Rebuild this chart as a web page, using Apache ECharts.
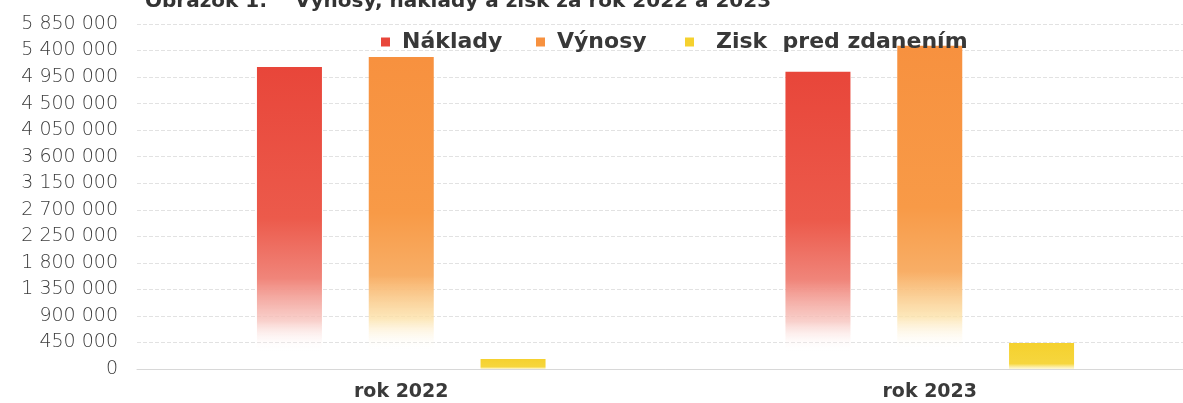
<!DOCTYPE html>
<html>
<head>
<meta charset="utf-8">
<script src="https://cdn.jsdelivr.net/npm/echarts@6/dist/echarts.min.js"></script>
<style>
html,body{margin:0;padding:0;background:#fff;overflow:hidden;width:1183px;height:403px;}
#chart{width:1194px;height:403px;}
</style>
</head>
<body>
<div id="chart"></div>
<script>
const categories = ['rok 2022', 'rok 2023'];
const naklady = [5120000, 5040000];
const vynosy = [5290000, 5480000];
const zisk = [170000, 440000];
const seriesNames = ['Náklady', 'Výnosy', 'Zisk  pred zdanením'];
const titleText = 'Obrázok 1:    Výnosy, náklady a zisk za rok 2022 a 2023';

function fmt(v){ return String(v).replace(/\B(?=(\d{3})+(?!\d))/g, ' '); }
function grad(stops){
  return new echarts.graphic.LinearGradient(0,0,0,1, stops.map(s=>({offset:s[0], color:s[1]})));
}
const redFill = grad([[0,'#e8463a'],[0.5,'#ec5a4b'],[0.7,'#f0857a'],[0.84,'rgba(247,196,190,0.8)'],[0.94,'rgba(255,255,255,0)'],[1,'rgba(255,255,255,0)']]);
const orangeFill = grad([[0,'#f7913f'],[0.5,'#f89a47'],[0.7,'#f8ae66'],[0.84,'rgba(252,226,170,0.8)'],[0.94,'rgba(255,255,255,0)'],[1,'rgba(255,255,255,0)']]);
const yellowFill = grad([[0,'#f5d12e'],[0.8,'#f6d63e'],[1,'rgba(250,230,120,0.3)']]);
const colors = ['#e8463a','#f7913f','#f5d12e'];
const legendLefts = [376, 531, 680];
const legendPads = [7, 7, 17];

const chart = echarts.init(document.getElementById('chart'));
chart.setOption({
  animation:false,
  title:{text:titleText, left:140, top:-13, textStyle:{fontFamily:'DejaVu Sans', fontWeight:'bold', fontSize:20, color:'#333'}},
  legend: seriesNames.map((n,i)=>({
    top:26, left:legendLefts[i], itemWidth:9, itemHeight:9, icon:'rect',
    textStyle:{fontFamily:'DejaVu Sans', fontSize:22, color:'#383838', fontWeight:'bold', padding:[0,0,0,legendPads[i]]},
    data:[{name:n, itemStyle:{color:colors[i]}}]
  })),
  grid:{left:137, right:0, top:24, bottom:34, containLabel:false},
  xAxis:{
    type:'category', data:categories,
    axisLine:{lineStyle:{color:'#d8d8d8'}}, axisTick:{show:false},
    axisLabel:{fontFamily:'DejaVu Sans', fontSize:19, fontWeight:'bold', color:'#3a3a3a', margin:14}
  },
  yAxis:{
    type:'value', min:0, max:5850000, interval:450000,
    axisLine:{show:false}, axisTick:{show:false},
    splitLine:{lineStyle:{color:'#e2e2e2', type:'dashed'}},
    axisLabel:{fontFamily:'DejaVu Sans', fontWeight:200, fontSize:19, color:'#3c3c3c', margin:19, formatter:fmt}
  },
  series:[
    {name:seriesNames[0], type:'bar', data:naklady, barWidth:65, barGap:'72%', barCategoryGap:'45%', itemStyle:{color:redFill}},
    {name:seriesNames[1], type:'bar', data:vynosy, barWidth:65, barGap:'72%', itemStyle:{color:orangeFill}},
    {name:seriesNames[2], type:'bar', data:zisk, barWidth:65, barGap:'72%', itemStyle:{color:yellowFill}}
  ]
});
</script>
</body>
</html>
